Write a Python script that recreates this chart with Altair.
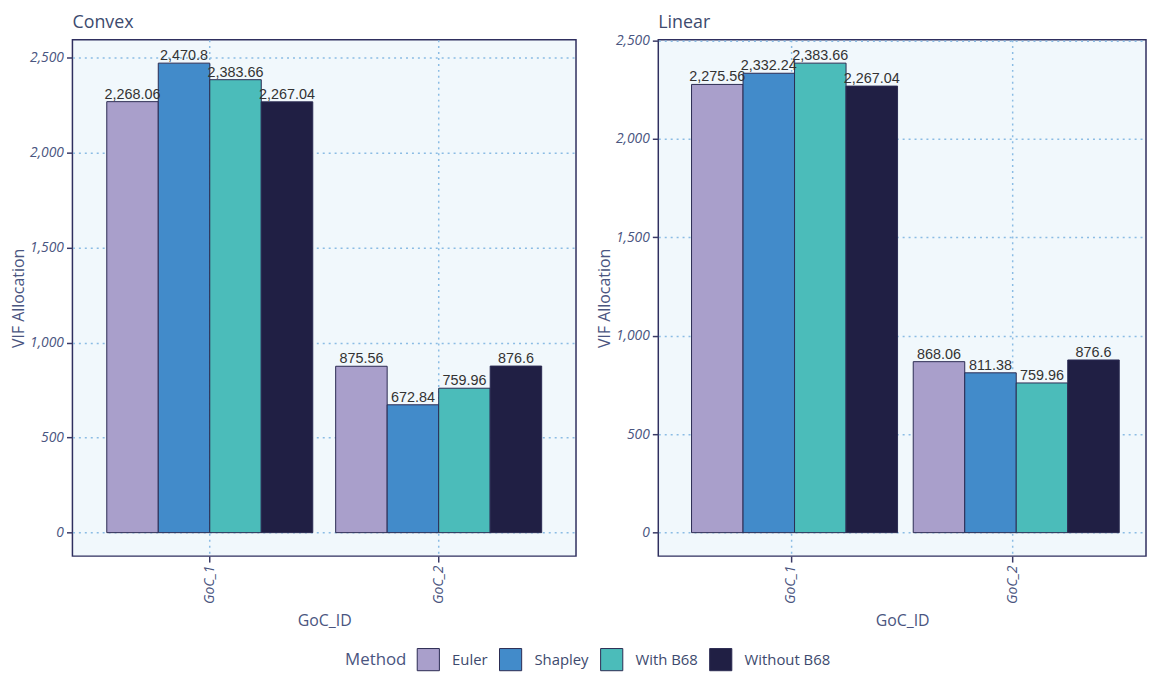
import altair as alt
import pandas as pd

panels = ["Convex", "Linear"]
goc_ids = ["GoC_1", "GoC_2"]
methods = ["Euler", "Shapley", "With B68", "Without B68"]
colors = ["#a99fcb", "#428bca", "#4bbcba", "#201f44"]

convex_goc1 = [2268.06, 2470.8, 2383.66, 2267.04]
convex_goc2 = [875.56, 672.84, 759.96, 876.6]
linear_goc1 = [2275.56, 2332.24, 2383.66, 2267.04]
linear_goc2 = [868.06, 811.38, 759.96, 876.6]

y_ticks = [0, 500, 1000, 1500, 2000, 2500]

TXT = "#4a5580"
BORDER = "#2f2f5f"


def make_df(g1, g2):
    rows = []
    for gid, vals in zip(goc_ids, [g1, g2]):
        for m, v in zip(methods, vals):
            rows.append({"GoC_ID": gid, "Method": m, "VIF": v, "base": 0})
    return pd.DataFrame(rows)


def panel(name, df, width, title_offset):
    vmax = df["VIF"].max()
    domain = [-0.05 * vmax, 1.05 * vmax]
    base = alt.Chart(df)
    xscale = alt.Scale(domain=goc_ids, paddingInner=0.1, paddingOuter=0.15)
    x = alt.X("GoC_ID:N", scale=xscale,
              axis=alt.Axis(title="GoC_ID", labelAngle=-90))
    xo = alt.XOffset("Method:N", sort=methods,
                     scale=alt.Scale(domain=methods, paddingInner=0, paddingOuter=0))
    y = alt.Y("VIF:Q", scale=alt.Scale(domain=domain, nice=False, zero=False),
              axis=alt.Axis(title="VIF Allocation", values=y_ticks, format=",.0f"))
    bars = base.mark_bar(stroke="#2a2a52", strokeWidth=1).encode(
        x=x, xOffset=xo, y=y, y2="base:Q",
        color=alt.Color("Method:N", sort=methods,
                        scale=alt.Scale(domain=methods, range=colors),
                        legend=alt.Legend(title="Method", orient="none",
                                          legendX=275, legendY=613)),
    )
    text = base.mark_text(baseline="bottom", dy=0, fontSize=14.5,
                          font="Liberation Sans", color="#333333").encode(
        x=x, xOffset=xo, y=y,
        text=alt.Text("VIF:Q", format=",.2~f"),
    )
    return alt.layer(bars, text).properties(
        width=width, height=521,
        title=alt.TitleParams(name, anchor="start", frame="group", fontSize=18,
                              fontWeight="normal", font="Open Sans", color="#3d4a6e",
                              offset=title_offset),
    )


left = panel(panels[0], make_df(convex_goc1, convex_goc2), 508, 8)
right = panel(panels[1], make_df(linear_goc1, linear_goc2), 492, 1)

chart = alt.hconcat(left, right, spacing=18).properties(
    padding={"left": 1, "top": 2, "right": 0, "bottom": 0}
).configure_view(
    fill="#f1f8fc", stroke=BORDER, strokeWidth=1.5
).configure_axis(
    labelFont="Open Sans", labelFontStyle="italic", labelFontSize=14, labelColor=TXT,
    titleFont="Open Sans", titleFontSize=16, titleFontWeight="normal", titleColor=TXT,
    tickColor="#3a3a66", tickSize=6, tickWidth=1.5, labelPadding=3,
    domain=False, grid=True, gridColor="#8bbce4", gridDash=[2, 4], gridWidth=1.5,
).configure_axisY(titlePadding=3).configure_axisX(titlePadding=9).configure_legend(
    direction="horizontal", titleOrient="left", titlePadding=10,
    titleFont="Open Sans", titleFontSize=17, titleFontWeight="normal", titleColor=TXT,
    labelFont="Open Sans", labelFontSize=15, labelColor="#3d4a6e", labelOffset=12,
    symbolType="square", symbolSize=500, symbolStrokeColor="#2a2a52",
    symbolStrokeWidth=1, symbolOpacity=1, columnPadding=9,
)

chart.save("out.html", embed_options={"renderer": "svg", "actions": False})
